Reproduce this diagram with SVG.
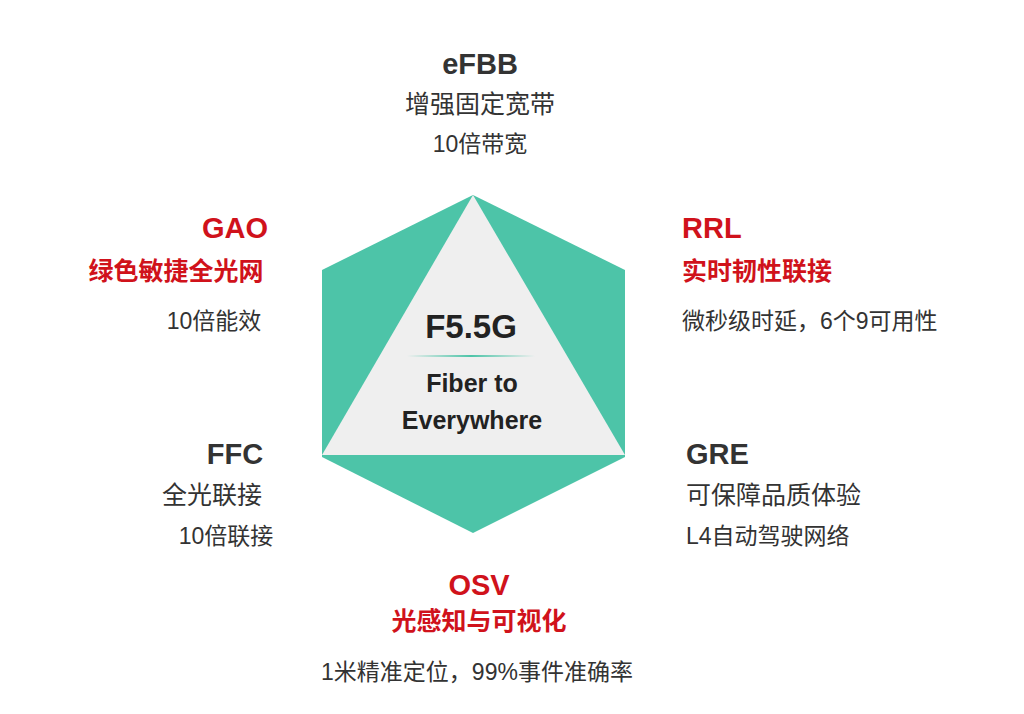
<svg xmlns="http://www.w3.org/2000/svg" width="1024" height="714" viewBox="0 0 1024 714">
<defs>
<linearGradient id="ln" x1="0" x2="1" y1="0" y2="0">
<stop offset="0" stop-color="#4dc4a8" stop-opacity="0"/>
<stop offset="0.5" stop-color="#4dc4a8"/>
<stop offset="1" stop-color="#4dc4a8" stop-opacity="0"/>
</linearGradient>
</defs>
<style>
text{font-family:"Liberation Sans","Noto Sans CJK SC",sans-serif;fill:#333}
.h{font-size:29px;font-weight:bold}
.r{fill:#d0121b}
.s{font-size:25px}
.rs{font-size:25px;font-weight:bold;fill:#d0121b}
.m{font-size:23px}
.c{font-weight:bold;fill:#222}
</style>
<rect width="1024" height="714" fill="#fff"/>
<g id="center">
<polygon points="473,195 625,270 625,457 473,533 322,457 322,270" fill="#4dc4a8"/>
<polygon points="473,195 625,455 322,455" fill="#efefef"/>
<text class="c" x="471" y="338" font-size="33" text-anchor="middle">F5.5G</text>
<rect x="407" y="355" width="128" height="2" fill="url(#ln)"/>
<text class="c" x="472" y="392" font-size="25" text-anchor="middle">Fiber to</text>
<text class="c" x="472" y="429" font-size="25" text-anchor="middle">Everywhere</text>
</g>
<g id="eFBB" text-anchor="middle">
<text class="h" x="480" y="74">eFBB</text>
<text class="s" x="480" y="113">增强固定宽带</text>
<text class="m" x="480" y="152">10倍带宽</text>
</g>
<g id="GAO" text-anchor="middle">
<text class="h r" x="235" y="238">GAO</text>
<text class="rs" x="176" y="280">绿色敏捷全光网</text>
<text class="m" x="214" y="329">10倍能效</text>
</g>
<g id="RRL">
<text class="h r" x="682" y="238">RRL</text>
<text class="rs" x="682" y="280">实时韧性联接</text>
<text class="m" x="682" y="329">微秒级时延，6个9可用性</text>
</g>
<g id="FFC" text-anchor="middle">
<text class="h" x="235" y="464">FFC</text>
<text class="s" x="212" y="504">全光联接</text>
<text class="m" x="226" y="544">10倍联接</text>
</g>
<g id="GRE">
<text class="h" x="686" y="464">GRE</text>
<text class="s" x="686" y="504">可保障品质体验</text>
<text class="m" x="686" y="544">L4自动驾驶网络</text>
</g>
<g id="OSV" text-anchor="middle">
<text class="h r" x="479" y="595">OSV</text>
<text class="rs" x="479" y="630">光感知与可视化</text>
<text class="m" x="477" y="680">1米精准定位，99%事件准确率</text>
</g>
<g id="connectors"/>
</svg>
